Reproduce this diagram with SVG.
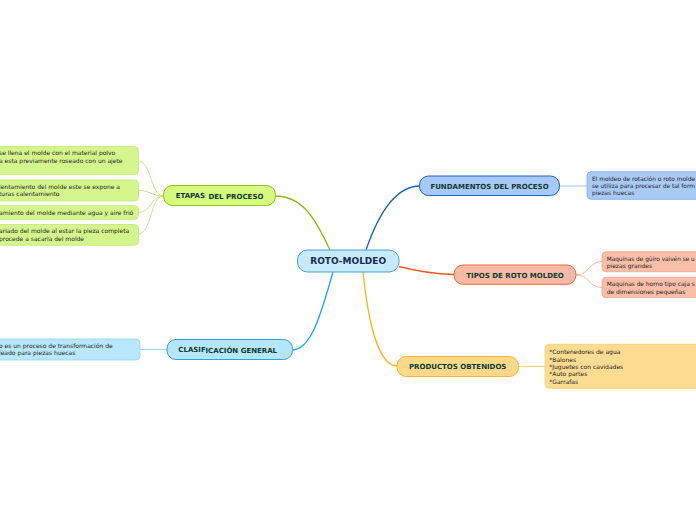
<svg xmlns="http://www.w3.org/2000/svg" width="696" height="520" viewBox="0 0 696 520">
<style>
text{font-family:"DejaVu Sans","Verdana",sans-serif}
.m{font-size:7px;font-weight:bold;fill:#0d3b2c}
.c{font-size:6px;fill:#222}
.conn{fill:none;stroke-width:1.3}
.sub{fill:none;stroke-width:1}
</style>
<rect width="696" height="520" fill="#ffffff"/>
<g id="connectors">
<path class="conn" stroke="#8db80e" d="M275.5,196 C303,196 316,220 330,250"/>
<path class="conn" stroke="#1a60d2" d="M366,250 C378,215 395,186 420,186"/>
<path class="conn" stroke="#19a6ea" d="M333,272 C322,310 312,350 292,350"/>
<path class="conn" stroke="#fbb31a" d="M363,272 C368,320 378,366 397,366"/>
<path class="conn" stroke="#f5582a" d="M399,266.5 C420,272 435,274 454,274.5"/>
<path class="sub" stroke="#c9e58e" d="M163.5,196 C150,196 152,161 138,161"/>
<path class="sub" stroke="#c9e58e" d="M163.5,196 C150,196 152,190.5 138,190.5"/>
<path class="sub" stroke="#c9e58e" d="M163.5,196 C150,196 152,212.5 138,212.5"/>
<path class="sub" stroke="#c9e58e" d="M163.5,196 C150,196 152,234 138,234"/>
<path class="sub" stroke="#9fd8f6" d="M167,349.5 L140,349.5"/>
<path class="sub" stroke="#a5c4f6" d="M559.5,186 L587,186"/>
<path class="sub" stroke="#f8b8a2" d="M576,275 C590,275 588,261.5 602,261.5"/>
<path class="sub" stroke="#f8b8a2" d="M576,275 C590,275 588,287.5 602,287.5"/>
<path class="sub" stroke="#fdd67e" d="M518.5,366.5 L545,366.5"/>
</g>
<g id="root">
<rect x="297.5" y="250" width="101.5" height="22" rx="10" fill="#c6ebfc" stroke="#4e9fd6" stroke-width="1"/>
<text x="348.2" y="264.3" text-anchor="middle" style="font-size:9px;font-weight:bold;fill:#1b2a50">ROTO-MOLDEO</text>
</g>
<g id="etapas">
<rect x="163.5" y="185.5" width="112" height="20" rx="9" fill="#d6fa7e" stroke="#8ec21e" stroke-width="1"/>
<text x="175.7" y="197.8" class="m">ETAPAS</text>
<text x="208.5" y="199.3" class="m">DEL PROCESO</text>
</g>
<g id="etapa1">
<rect x="-10" y="146.5" width="148.5" height="28" rx="4" fill="#d5f68c" stroke="#c3e67a" stroke-width="0.8"/>
<text x="-1" y="155.3" class="c">se llena el molde con el material polvo</text>
<text x="-1" y="162.7" class="c">a esta previamente roseado con un ajete</text>
</g>
<g id="etapa2">
<rect x="-10" y="180" width="148.5" height="21" rx="4" fill="#d5f68c" stroke="#c3e67a" stroke-width="0.8"/>
<text x="-1" y="189" class="c">lentamiento del molde este se expone a</text>
<text x="-1" y="195.8" class="c">turas calentamiento</text>
</g>
<g id="etapa3">
<rect x="-10" y="205.7" width="148.5" height="13.6" rx="4" fill="#d5f68c" stroke="#c3e67a" stroke-width="0.8"/>
<text x="-1" y="214.7" class="c">amiento del molde mediante agua y aire frió</text>
</g>
<g id="etapa4">
<rect x="-10" y="224.5" width="148.5" height="20.8" rx="4" fill="#d5f68c" stroke="#c3e67a" stroke-width="0.8"/>
<text x="-1" y="232.7" class="c">ariado del molde al estar la pieza completa</text>
<text x="-1" y="241" class="c"> procede a sacarla del molde</text>
</g>
<g id="clasificacion">
<rect x="167" y="339.5" width="125.5" height="20" rx="9" fill="#b5e6fc" stroke="#2aa4e2" stroke-width="1"/>
<text x="178.3" y="351.8" class="m">CLASIF</text>
<text x="205.5" y="353.2" class="m">ICACIÓN GENERAL</text>
</g>
<g id="clasificacion1">
<rect x="-10" y="339" width="150" height="21" rx="4" fill="#b9e7fc" stroke="#90d5f6" stroke-width="0.8"/>
<text x="-1" y="347.7" class="c">o es un proceso de transformación de</text>
<text x="-1" y="355" class="c">leado para piezas huecas</text>
</g>
<g id="fundamentos">
<rect x="419.5" y="176" width="140" height="19.5" rx="9" fill="#a7c9fb" stroke="#1f62d1" stroke-width="1"/>
<text x="489.5" y="188.8" text-anchor="middle" class="m">FUNDAMENTOS DEL PROCESO</text>
</g>
<g id="fundamentos1">
<rect x="587" y="171.7" width="120" height="27.6" rx="4" fill="#a9caf9" stroke="#7eaaf0" stroke-width="0.8"/>
<text x="592" y="181.3" class="c" textLength="103" lengthAdjust="spacingAndGlyphs">El moldeo de rotación o roto molde</text>
<text x="592" y="188.1" class="c" textLength="103" lengthAdjust="spacingAndGlyphs">se utiliza para procesar de tal form</text>
<text x="592" y="195.3" class="c">piezas huecas</text>
</g>
<g id="tipos">
<rect x="454" y="265" width="122" height="19.3" rx="9" fill="#fbbaa6" stroke="#ee6a42" stroke-width="1"/>
<text x="515" y="278.2" text-anchor="middle" class="m">TIPOS DE ROTO MOLDEO</text>
</g>
<g id="tipos1">
<rect x="602" y="251.7" width="110" height="20" rx="4" fill="#fbbea9" stroke="#f5a58c" stroke-width="0.8"/>
<text x="606.7" y="261.3" class="c" textLength="88" lengthAdjust="spacingAndGlyphs">Maquinas de güiro vaivén se u</text>
<text x="606.7" y="268" class="c">piezas grandes</text>
</g>
<g id="tipos2">
<rect x="602" y="277.3" width="110" height="20.4" rx="4" fill="#fbbea9" stroke="#f5a58c" stroke-width="0.8"/>
<text x="606.7" y="286.3" class="c" textLength="88" lengthAdjust="spacingAndGlyphs">Maquinas de horno tipo caja s</text>
<text x="606.7" y="293.7" class="c">de dimensiones pequeñas</text>
</g>
<g id="productos">
<rect x="397" y="356.5" width="121.5" height="20" rx="9" fill="#fed98b" stroke="#f8b72c" stroke-width="1"/>
<text x="457.7" y="369" text-anchor="middle" class="m">PRODUCTOS OBTENIDOS</text>
</g>
<g id="productos1">
<rect x="545" y="344.3" width="165" height="44" rx="4" fill="#fedc91" stroke="#f9d06e" stroke-width="0.8"/>
<text x="549.3" y="354.3" class="c">*Contenedores de agua</text>
<text x="549.3" y="361.6" class="c">*Balones</text>
<text x="549.3" y="368.9" class="c">*Juguetes con cavidades</text>
<text x="549.3" y="376.2" class="c">*Auto partes</text>
<text x="549.3" y="383.5" class="c">*Garrafas</text>
</g>
</svg>
